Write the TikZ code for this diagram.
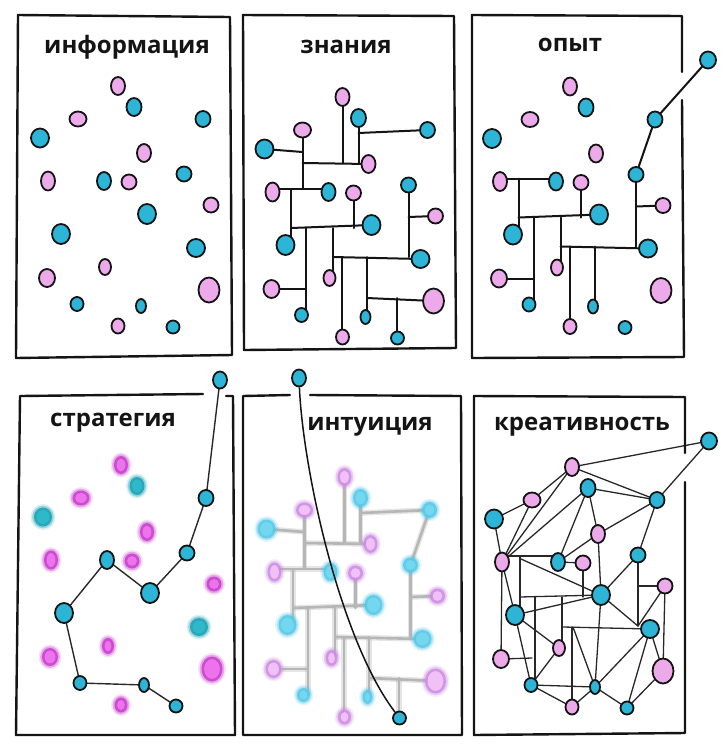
\documentclass[tikz,border=0pt]{standalone}
\usepackage{fontspec}
\setmainfont{Open Sans}
\usetikzlibrary{shapes.geometric}
\pgfdeclarelayer{paper}
\pgfdeclarelayer{bg}
\pgfsetlayers{paper,bg,main}
\definecolor{ink}{RGB}{20,20,20}
\definecolor{webc}{RGB}{40,40,40}
\definecolor{cyF}{RGB}{44,181,214}
\definecolor{piF}{RGB}{236,170,234}
\definecolor{bmag}{RGB}{200,60,205}
\definecolor{bmagL}{RGB}{236,115,236}
\definecolor{bcyD}{RGB}{25,160,180}
\definecolor{bcy}{RGB}{45,185,200}
\definecolor{pmag}{RGB}{205,140,228}
\definecolor{pmagL}{RGB}{240,192,246}
\definecolor{pcy}{RGB}{85,200,232}
\definecolor{pcyL}{RGB}{115,215,240}
\definecolor{lgray}{RGB}{182,182,182}
\tikzset{
  dotbase/.style={ellipse,draw=ink,line width=1.8pt,inner sep=0pt},
  ghost/.style={ellipse,inner sep=0pt},
  frame/.style={draw=ink,line width=2.4pt,line cap=round,line join=round},
  title/.style={font=\bfseries\fontsize{24}{28}\selectfont,text=ink,inner sep=0pt},
  tree/.style={draw=ink,line width=2pt,line cap=round},
  web/.style={draw=webc,line width=1.3pt,line cap=round},
  chain/.style={draw=webc,line width=1.4pt},
  fog/.style={draw=lgray,line width=2.6pt,line cap=round,
    preaction={draw=lgray,opacity=.35,line width=5.5pt}},
  curve/.style={draw=ink,line width=1.5pt},
}
\newcommand\sdotP[4]{\node[dotbase,fill=piF,minimum width=#3pt,minimum height=#4pt] (#1) at (#2) {};}
\newcommand\sdotC[4]{\node[dotbase,fill=cyF,minimum width=#3pt,minimum height=#4pt] (#1) at (#2) {};}
\newcommand\blurdot[6]{%
  \node[ghost,minimum width=#3pt,minimum height=#4pt] (#1) at (#2) {};
  \fill[#5,opacity=.15] (#1.center) ellipse [x radius={#3/2+3.5}, y radius={#4/2+3.5}];
  \fill[#5,opacity=.35] (#1.center) ellipse [x radius={#3/2+1.8}, y radius={#4/2+1.8}];
  \fill[#5,opacity=.85] (#1.center) ellipse [x radius={#3/2}, y radius={#4/2}];
  \fill[#6] (#1.center) ellipse [x radius={#3/2-2.6}, y radius={#4/2-2.6}];}
\newcommand\bdotP[4]{\blurdot{#1}{#2}{#3}{#4}{bmag}{bmagL}}
\newcommand\bdotC[4]{\blurdot{#1}{#2}{#3}{#4}{bcyD}{bcy}}
\newcommand\pdotP[4]{\blurdot{#1}{#2}{#3}{#4}{pmag}{pmagL}}
\newcommand\pdotC[4]{\blurdot{#1}{#2}{#3}{#4}{pcy}{pcyL}}
\newcommand\mkdot[7]{%
  \ifcsname sharp#1#3\endcsname\csname sdot#4\endcsname{#1#3}{#5}{#6}{#7}%
  \else\csname #2dot#4\endcsname{#1#3}{#5}{#6}{#7}\fi}
\def\mksharp#1#2{\expandafter\def\csname sharp#1#2\endcsname{}}
\mksharp Dd \mksharp Dj \mksharp Dl \mksharp Dh \mksharp Dm \mksharp Dr \mksharp Ds \mksharp Du
\mksharp Eu
\newcommand\basedots[2]{%
  \mkdot{#1}{#2}{a}{P}{118,86}{14}{18}
  \mkdot{#1}{#2}{b}{C}{134,107}{15}{18}
  \mkdot{#1}{#2}{c}{P}{78,119}{17}{15}
  \mkdot{#1}{#2}{d}{C}{203,119}{15}{16}
  \mkdot{#1}{#2}{e}{C}{40,138}{18}{19}
  \mkdot{#1}{#2}{f}{P}{144,153}{14}{18}
  \mkdot{#1}{#2}{g}{P}{48,181}{14}{19}
  \mkdot{#1}{#2}{h}{C}{104,181}{14}{18}
  \mkdot{#1}{#2}{i}{P}{129,182}{15}{15}
  \mkdot{#1}{#2}{j}{C}{184,174}{15}{15}
  \mkdot{#1}{#2}{k}{P}{211,205}{15}{15}
  \mkdot{#1}{#2}{l}{C}{147,214}{18}{20}
  \mkdot{#1}{#2}{m}{C}{61,234}{18}{20}
  \mkdot{#1}{#2}{n}{C}{196,248}{18}{18}
  \mkdot{#1}{#2}{o}{P}{105,267}{12}{16}
  \mkdot{#1}{#2}{p}{P}{47,278}{16}{18}
  \mkdot{#1}{#2}{q}{P}{209,290}{21}{25}
  \mkdot{#1}{#2}{r}{C}{77,304}{13}{14}
  \mkdot{#1}{#2}{s}{C}{141,306}{10}{14}
  \mkdot{#1}{#2}{t}{P}{118,326}{13}{15}
  \mkdot{#1}{#2}{u}{C}{173,327}{13}{13}}
\newcommand\uppertree[2]{%
  \draw[#2] (#1a.center) -- (#1a.center |- 0,152);
  \draw[#2] (78,152) -- (#1f.center);
  \draw[#2] (#1b.center) -- (#1b.center |- 0,152);
  \draw[#2] (#1b.center |- 0,122) -- (#1d.center);
  \draw[#2] (#1c.center) -- (#1c.center |- 0,178);
  \draw[#2] (#1e.center) -- (78,141);}
\newcommand\lowertree[2]{%
  \draw[#2] (#1g.center |- 0,178) -- (#1h.center |- 0,178);
  \draw[#2] (66.5,178) -- (66.5,234);
  \draw[#2] (66.5,217) -- (#1l.center);
  \draw[#2] (#1i.center) -- (#1i.center |- 0,217);
  \draw[#2] (81.5,217) -- (81.5,304);
  \draw[#2] (#1p.center) -- (81.5,278);
  \draw[#2] (108.5,217) -- (108.5,267);
  \draw[#2] (108.5,246) -- (#1n.center);
  \draw[#2] (#1j.center) -- (#1j.center |- 0,246);
  \draw[#2] (#1j.center |- 0,206) -- (#1k.center);
  \draw[#2] (117.5,246) -- (117.5,326);
  \draw[#2] (142.5,246) -- (142.5,306);}
\newcommand\qbranch[2]{%
  \draw[#2] (142.5,287) -- (#1q.center);
  \draw[#2] (172.5,287) -- (172.5,327);}
\begin{document}
\begin{tikzpicture}[x=1pt,y=-1pt]
\begin{pgfonlayer}{paper}
  \path[use as bounding box,fill=white] (0,0) rectangle (728,748);
\end{pgfonlayer}
% frames
\draw[frame] (18,15) -- (230,17) -- (232,355) -- (16,358) -- cycle;
\draw[frame] (243,15) -- (454,16) -- (456,348) -- (244,350) -- cycle;
\draw[frame] (682,72) -- (682,16) -- (472,15) -- (472,358) -- (684,357) -- (682,100);
\draw[frame] (203,394) -- (20,396) -- (16,735) -- (235,735) -- (233,396) -- (226,396);
\draw[frame] (290,395) -- (243,396) -- (243,735) -- (462,735) -- (461,396) -- (310,395);
\draw[frame] (685,453) -- (685,397) -- (474,396) -- (474,735) -- (685,733) -- (685,482);
% titles
\node[title] (t1) at (127,47) {информация};
\node[title] (t2) at (346,47) {знания};
\node[title] (t3) at (570,45) {опыт};
\node[title] (t4) at (113,423) {стратегия};
\node[title] (t5) at (370,427) {интуиция};
\node[title] (t6) at (582,427) {креативность};
% panel 1
\begin{scope}
  \basedots{A}{s}
\end{scope}
% panel 2
\begin{scope}[shift={(224.5,11)}]
  \basedots{B}{s}
  \begin{pgfonlayer}{bg}
    \uppertree{B}{tree}\lowertree{B}{tree}\qbranch{B}{tree}
  \end{pgfonlayer}
\end{scope}
% panel 3
\sdotC{Cz}{708,60}{16}{17}
\begin{scope}[shift={(452,0.5)}]
  \basedots{C}{s}
  \begin{pgfonlayer}{bg}
    \lowertree{C}{tree}
    \draw[tree] (Cz.center) -- (Cd.center) -- (Cj.center);
  \end{pgfonlayer}
\end{scope}
% panel 4
\sdotC{Dz}{220,380}{14}{17}
\begin{scope}[shift={(3,379)}]
  \basedots{D}{b}
  \begin{pgfonlayer}{bg}
    \draw[chain] (Dz.center) -- (Dd.center) -- (Dj.center) -- (Dl.center) -- (Dh.center)
      -- (Dm.center) -- (Dr.center) -- (Ds.center) -- (Du.center);
  \end{pgfonlayer}
\end{scope}
% panel 5
\sdotC{Ez}{299,378}{14}{17}
\begin{scope}[shift={(226.5,391)}]
  \basedots{E}{p}
  \begin{pgfonlayer}{bg}
    \uppertree{E}{fog}\lowertree{E}{fog}\qbranch{E}{fog}
    \draw[fog] (Ed.center) -- (Ej.center);
  \end{pgfonlayer}
\end{scope}
\draw[curve] (Ez) .. controls (303,470) and (340,640) .. (Eu);
% panel 6
\sdotC{Fz}{709,441}{16}{17}
\begin{scope}[shift={(454,381)}]
  \basedots{F}{s}
  \begin{pgfonlayer}{bg}
    \foreach \u/\v in {a/z,z/d,a/d,a/c,g/c,g/a,g/b,c/e,e/g,b/d,b/f,b/h,f/d,f/h,f/l,
      d/j,j/l,h/i,g/p,g/m,m/o,m/r,o/r,r/s,r/t,t/s,l/s,k/q,n/q,n/u,n/s,s/u,u/q,m/l}
      {\draw[web] (F\u.center) -- (F\v.center);}
    \draw[web] (Fg.center |- 0,175) -- (Fh.center |- 0,175);
    \draw[web] (66,175) -- (66,234);
    \draw[web] (67,178) -- (Fl.center);
    \draw[web] (Fi.center) -- (Fi.center |- 0,216);
    \draw[web] (66,216) -- (Fl.center);
    \draw[web] (81,216) -- (81,304);
    \draw[web] (108,216) -- (108,267);
    \draw[web] (Fp.center) -- (78,277);
    \draw[web] (109,246) -- (Fn.center);
    \draw[web] (118,246) -- (118,326);
    \draw[web] (119,246) -- (Fs.center);
    \draw[web] (Fj.center) -- (Fj.center |- 0,245);
    \draw[web] (Fj.center |- 0,205) -- (Fk.center);
    \draw[web] (Fl.center) -- (184,245);
    \draw[web] (Fk.center) -- (184,245);
  \end{pgfonlayer}
\end{scope}
\end{tikzpicture}
\end{document}
